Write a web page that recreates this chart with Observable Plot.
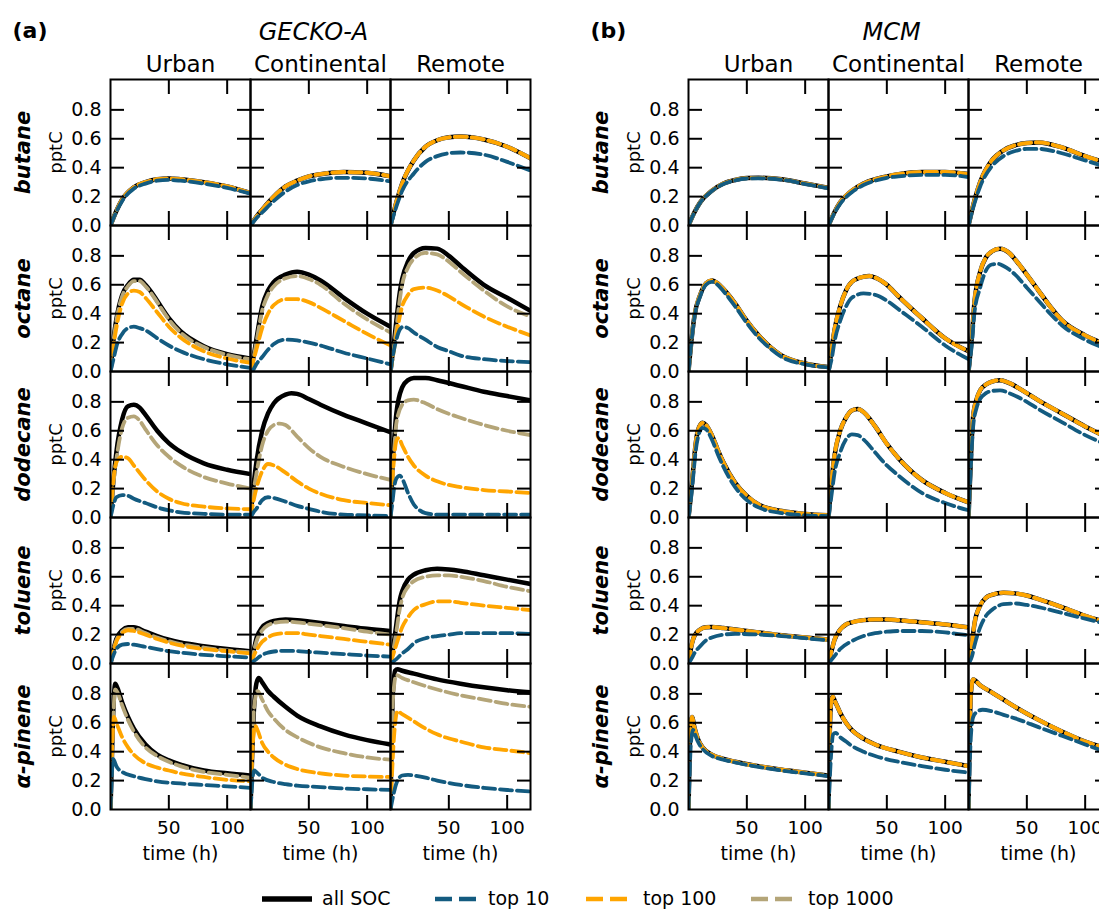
<!DOCTYPE html>
<html><head><meta charset="utf-8">
<script src="https://cdn.jsdelivr.net/npm/d3@7"></script>
<script src="https://cdn.jsdelivr.net/npm/@observablehq/plot@0.6"></script>
<style>
body{margin:0;background:#fff;font-family:"DejaVu Sans",sans-serif;}
#wrap{position:relative;width:1099px;height:909px;overflow:hidden;background:#fff;}
.lg{position:absolute;font-size:19px;line-height:19px;white-space:nowrap;color:#000;}
</style>
</head><body><div id="wrap"></div>
<script>
// ---------- categories / labels ----------
const SCENARIOS = ["Urban", "Continental", "Remote"];
const COMPOUNDS = ["butane", "octane", "dodecane", "toluene", "α-pinene"];
const SERIES_KEYS = ["all", "top10", "top100", "top1000"];
const SERIES_LABELS = ["all SOC", "top 10", "top 100", "top 1000"];
const Y_LABEL_TICKS = [0, 0.2, 0.4, 0.6, 0.8];
const Y_MARK_TICKS = [0.2, 0.4, 0.6, 0.8];
const X_TICKS = [50, 100];

// ---------- GECKO-A data: [time (h), pptC] ----------
const GB_U_ALL = [[0,0],[5,0.1],[10,0.18],[20,0.265],[30,0.3],[40,0.32],[50,0.325],[60,0.32],[80,0.3],[100,0.27],[120,0.225]];
const GB_C_ALL = [[0,0],[5,0.06],[10,0.11],[20,0.2],[30,0.27],[40,0.31],[50,0.34],[60,0.355],[80,0.37],[100,0.365],[120,0.34]];
const GB_R_ALL = [[0,0],[5,0.16],[10,0.29],[20,0.45],[30,0.545],[40,0.59],[50,0.61],[60,0.615],[80,0.595],[100,0.545],[120,0.465]];
const GECKO_BUTANE = {
  Urban: {all: GB_U_ALL, top1000: GB_U_ALL, top100: GB_U_ALL,
    top10: [[0,0],[5,0.095],[10,0.17],[20,0.255],[30,0.29],[40,0.31],[50,0.315],[60,0.31],[80,0.29],[100,0.26],[120,0.22]]},
  Continental: {all: GB_C_ALL, top1000: GB_C_ALL, top100: GB_C_ALL,
    top10: [[0,0],[5,0.05],[10,0.09],[20,0.17],[30,0.235],[40,0.28],[50,0.305],[60,0.32],[80,0.33],[100,0.325],[120,0.305]]},
  Remote: {all: GB_R_ALL, top1000: GB_R_ALL, top100: GB_R_ALL,
    top10: [[0,0],[5,0.13],[10,0.24],[20,0.36],[30,0.44],[40,0.48],[50,0.5],[60,0.505],[80,0.49],[100,0.44],[120,0.38]]}
};
const GECKO_OCTANE = {
  Urban: {
    all: [[0,0],[3,0.25],[5,0.36],[10,0.53],[15,0.6],[20,0.635],[25,0.635],[30,0.6],[35,0.55],[40,0.49],[50,0.37],[60,0.28],[70,0.22],[80,0.175],[100,0.12],[120,0.09]],
    top1000: [[0,0],[3,0.24],[5,0.35],[10,0.52],[15,0.59],[20,0.625],[25,0.625],[30,0.59],[35,0.54],[40,0.48],[50,0.36],[60,0.27],[70,0.21],[80,0.17],[100,0.115],[120,0.085]],
    top100: [[0,0],[3,0.2],[5,0.3],[10,0.47],[15,0.54],[20,0.56],[25,0.55],[30,0.51],[40,0.41],[50,0.31],[60,0.235],[80,0.14],[100,0.09],[120,0.06]],
    top10: [[0,0],[3,0.1],[5,0.17],[10,0.26],[15,0.3],[20,0.31],[25,0.3],[30,0.285],[40,0.23],[50,0.18],[60,0.14],[80,0.085],[100,0.05],[120,0.025]]},
  Continental: {
    all: [[0,0],[3,0.12],[5,0.22],[10,0.45],[15,0.56],[20,0.62],[30,0.67],[40,0.69],[50,0.67],[60,0.63],[80,0.51],[100,0.4],[120,0.31]],
    top1000: [[0,0],[3,0.11],[5,0.2],[10,0.42],[15,0.53],[20,0.59],[30,0.645],[40,0.66],[50,0.64],[60,0.6],[80,0.47],[100,0.36],[120,0.27]],
    top100: [[0,0],[5,0.15],[10,0.3],[15,0.4],[20,0.46],[30,0.5],[40,0.5],[50,0.48],[60,0.44],[80,0.35],[100,0.26],[120,0.18]],
    top10: [[0,0],[3,0.02],[5,0.05],[10,0.1],[15,0.15],[20,0.19],[30,0.22],[40,0.215],[50,0.2],[60,0.18],[80,0.13],[100,0.09],[120,0.05]]},
  Remote: {
    all: [[0,0],[3,0.2],[5,0.35],[8,0.55],[10,0.64],[15,0.76],[20,0.82],[30,0.855],[40,0.85],[50,0.8],[60,0.73],[80,0.6],[100,0.51],[120,0.42]],
    top1000: [[0,0],[3,0.17],[5,0.3],[8,0.5],[10,0.6],[15,0.72],[20,0.78],[30,0.82],[40,0.81],[50,0.76],[60,0.69],[80,0.56],[100,0.45],[120,0.38]],
    top100: [[0,0],[3,0.15],[5,0.25],[10,0.45],[15,0.53],[20,0.57],[30,0.58],[40,0.56],[50,0.52],[60,0.47],[80,0.38],[100,0.31],[120,0.25]],
    top10: [[0,0],[3,0.15],[5,0.22],[8,0.29],[11,0.31],[15,0.3],[20,0.27],[30,0.22],[40,0.17],[50,0.14],[60,0.11],[80,0.085],[100,0.072],[120,0.065]]}
};
const GECKO_DODECANE = {
  Urban: {
    all: [[0,0],[3,0.3],[5,0.45],[10,0.68],[15,0.77],[20,0.78],[25,0.76],[30,0.71],[40,0.6],[50,0.515],[60,0.455],[80,0.375],[100,0.33],[120,0.3]],
    top1000: [[0,0],[3,0.27],[5,0.4],[10,0.62],[15,0.69],[20,0.7],[25,0.67],[30,0.61],[40,0.5],[50,0.42],[60,0.36],[80,0.28],[100,0.235],[120,0.2]],
    top100: [[0,0],[3,0.3],[5,0.38],[8,0.415],[10,0.42],[15,0.41],[20,0.36],[30,0.26],[40,0.18],[50,0.13],[60,0.1],[80,0.075],[100,0.063],[120,0.057]],
    top10: [[0,0],[3,0.1],[5,0.14],[10,0.155],[15,0.15],[20,0.13],[30,0.1],[40,0.07],[50,0.05],[60,0.035],[80,0.025],[100,0.02],[120,0.02]]},
  Continental: {
    all: [[0,0],[3,0.25],[5,0.38],[10,0.6],[15,0.72],[20,0.79],[30,0.85],[35,0.86],[40,0.855],[50,0.82],[60,0.78],[80,0.71],[100,0.65],[120,0.59]],
    top1000: [[0,0],[3,0.2],[5,0.3],[10,0.5],[15,0.6],[20,0.64],[25,0.65],[30,0.64],[40,0.56],[50,0.48],[60,0.42],[80,0.35],[100,0.3],[120,0.26]],
    top100: [[0,0],[3,0.13],[5,0.2],[10,0.32],[15,0.37],[20,0.36],[30,0.31],[40,0.25],[50,0.2],[60,0.165],[80,0.12],[100,0.1],[120,0.085]],
    top10: [[0,0],[3,0.04],[5,0.06],[10,0.12],[15,0.14],[20,0.135],[30,0.11],[40,0.08],[50,0.06],[60,0.04],[80,0.02],[100,0.015],[120,0.01]]},
  Remote: {
    all: [[0,0],[2,0.4],[3,0.52],[5,0.72],[10,0.9],[15,0.95],[20,0.965],[30,0.965],[40,0.95],[60,0.91],[80,0.87],[100,0.84],[120,0.81]],
    top1000: [[0,0],[2,0.35],[3,0.45],[5,0.65],[10,0.78],[15,0.81],[20,0.815],[30,0.79],[40,0.75],[60,0.69],[80,0.64],[100,0.6],[120,0.57]],
    top100: [[0,0],[2,0.3],[3,0.4],[5,0.53],[7,0.55],[10,0.5],[15,0.42],[20,0.36],[30,0.29],[40,0.25],[60,0.21],[80,0.19],[100,0.18],[120,0.17]],
    top10: [[0,0],[2,0.13],[3,0.2],[5,0.27],[8,0.29],[10,0.27],[15,0.17],[20,0.09],[25,0.05],[30,0.03],[40,0.02],[80,0.02],[120,0.02]]}
};
const GECKO_TOLUENE = {
  Urban: {
    all: [[0,0],[5,0.17],[10,0.23],[15,0.25],[20,0.25],[30,0.22],[40,0.19],[50,0.165],[60,0.145],[80,0.12],[100,0.1],[120,0.085]],
    top1000: [[0,0],[5,0.16],[10,0.22],[15,0.24],[20,0.24],[30,0.21],[40,0.18],[50,0.155],[60,0.135],[80,0.11],[100,0.09],[120,0.078]],
    top100: [[0,0],[5,0.15],[10,0.21],[15,0.23],[20,0.225],[30,0.2],[40,0.17],[50,0.145],[60,0.125],[80,0.1],[100,0.085],[120,0.07]],
    top10: [[0,0],[5,0.1],[10,0.13],[15,0.135],[20,0.13],[30,0.115],[40,0.1],[50,0.085],[60,0.075],[80,0.06],[100,0.05],[120,0.04]]},
  Continental: {
    all: [[0,0],[3,0.1],[5,0.17],[10,0.25],[15,0.28],[20,0.295],[30,0.305],[40,0.3],[50,0.29],[60,0.28],[80,0.26],[100,0.24],[120,0.225]],
    top1000: [[0,0],[3,0.09],[5,0.15],[10,0.23],[15,0.265],[20,0.28],[30,0.29],[40,0.285],[50,0.275],[60,0.265],[80,0.245],[100,0.22],[120,0.2]],
    top100: [[0,0],[5,0.09],[10,0.15],[15,0.18],[20,0.2],[30,0.21],[40,0.21],[50,0.2],[60,0.19],[80,0.17],[100,0.15],[120,0.13]],
    top10: [[0,0],[5,0.03],[10,0.06],[15,0.075],[20,0.083],[30,0.088],[40,0.086],[50,0.08],[60,0.075],[80,0.065],[100,0.055],[120,0.048]]},
  Remote: {
    all: [[0,0],[3,0.15],[5,0.27],[8,0.44],[10,0.5],[15,0.58],[20,0.615],[30,0.645],[40,0.655],[50,0.65],[60,0.64],[80,0.61],[100,0.58],[120,0.55]],
    top1000: [[0,0],[3,0.12],[5,0.22],[8,0.38],[10,0.45],[15,0.53],[20,0.57],[30,0.6],[40,0.61],[50,0.61],[60,0.6],[80,0.57],[100,0.53],[120,0.5]],
    top100: [[0,0],[5,0.13],[10,0.25],[15,0.32],[20,0.37],[30,0.41],[40,0.43],[50,0.43],[60,0.42],[80,0.4],[100,0.385],[120,0.37]],
    top10: [[0,0],[5,0.03],[10,0.07],[15,0.1],[20,0.14],[30,0.175],[40,0.19],[50,0.2],[60,0.21],[80,0.21],[100,0.21],[120,0.205]]}
};
const GECKO_APINENE = {
  Urban: {
    all: [[0,0],[2,0.6],[4,0.87],[6,0.84],[10,0.74],[15,0.64],[20,0.56],[30,0.45],[40,0.38],[50,0.34],[60,0.31],[80,0.27],[100,0.25],[120,0.235]],
    top1000: [[0,0],[2,0.55],[4,0.83],[6,0.81],[10,0.72],[15,0.62],[20,0.54],[30,0.43],[40,0.37],[50,0.33],[60,0.3],[80,0.26],[100,0.24],[120,0.22]],
    top100: [[0,0],[2,0.55],[3,0.64],[5,0.6],[10,0.5],[15,0.43],[20,0.38],[30,0.32],[40,0.29],[50,0.27],[60,0.25],[80,0.225],[100,0.205],[120,0.195]],
    top10: [[0,0],[1,0.2],[2,0.35],[3,0.34],[5,0.3],[10,0.26],[20,0.23],[30,0.21],[40,0.195],[60,0.18],[80,0.17],[100,0.16],[120,0.15]]},
  Continental: {
    all: [[0,0],[3,0.7],[5,0.87],[7,0.91],[10,0.88],[15,0.82],[20,0.78],[30,0.71],[40,0.65],[60,0.575],[80,0.52],[100,0.48],[120,0.45]],
    top1000: [[0,0],[3,0.7],[6,0.82],[10,0.76],[15,0.68],[20,0.63],[30,0.55],[40,0.5],[60,0.43],[80,0.39],[100,0.36],[120,0.345]],
    top100: [[0,0],[2,0.45],[4,0.58],[6,0.55],[10,0.46],[15,0.4],[20,0.36],[30,0.31],[40,0.28],[60,0.25],[80,0.235],[100,0.228],[120,0.225]],
    top10: [[0,0],[3,0.27],[5,0.26],[10,0.22],[20,0.19],[30,0.175],[40,0.165],[60,0.155],[80,0.145],[100,0.14],[120,0.135]]},
  Remote: {
    all: [[0,0],[2,0.8],[4,0.96],[6,0.97],[10,0.96],[20,0.94],[40,0.9],[60,0.87],[80,0.845],[100,0.825],[120,0.81]],
    top1000: [[0,0],[2,0.75],[5,0.93],[10,0.91],[20,0.88],[40,0.83],[60,0.79],[80,0.76],[100,0.73],[120,0.71]],
    top100: [[0,0],[3,0.5],[6,0.68],[10,0.66],[20,0.61],[30,0.56],[40,0.52],[60,0.47],[80,0.43],[100,0.41],[120,0.39]],
    top10: [[0,0],[3,0.12],[5,0.18],[10,0.235],[15,0.24],[20,0.235],[30,0.22],[40,0.2],[60,0.17],[80,0.15],[100,0.135],[120,0.125]]}
};

// ---------- MCM data (top 100 and top 1000 coincide with all SOC) ----------
const MB_U = [[0,0],[5,0.09],[10,0.16],[20,0.24],[30,0.29],[40,0.315],[50,0.328],[60,0.33],[80,0.32],[100,0.29],[120,0.26]];
const MB_C = [[0,0],[5,0.09],[10,0.16],[20,0.24],[30,0.29],[40,0.32],[50,0.34],[60,0.355],[80,0.37],[100,0.37],[120,0.355]];
const MB_R = [[0,0],[5,0.17],[10,0.3],[20,0.45],[30,0.52],[40,0.555],[50,0.57],[60,0.575],[80,0.54],[100,0.48],[120,0.43]];
const MCM_BUTANE = {
  Urban: {all: MB_U, top1000: MB_U, top100: MB_U,
    top10: [[0,0],[5,0.088],[10,0.158],[20,0.238],[30,0.287],[40,0.312],[50,0.325],[60,0.327],[80,0.317],[100,0.287],[120,0.257]]},
  Continental: {all: MB_C, top1000: MB_C, top100: MB_C,
    top10: [[0,0],[5,0.085],[10,0.15],[20,0.23],[30,0.28],[40,0.31],[50,0.33],[60,0.34],[80,0.35],[100,0.35],[120,0.335]]},
  Remote: {all: MB_R, top1000: MB_R, top100: MB_R,
    top10: [[0,0],[5,0.15],[10,0.27],[20,0.41],[30,0.48],[40,0.515],[50,0.53],[60,0.53],[80,0.5],[100,0.45],[120,0.4]]}
};
const MO_U = [[0,0],[3,0.25],[5,0.38],[10,0.53],[15,0.61],[20,0.63],[25,0.61],[30,0.57],[40,0.47],[50,0.35],[60,0.25],[70,0.17],[80,0.11],[100,0.055],[120,0.03]];
const MO_C = [[0,0],[3,0.17],[5,0.28],[10,0.45],[15,0.56],[20,0.62],[30,0.655],[35,0.66],[40,0.65],[50,0.6],[60,0.52],[80,0.37],[100,0.23],[120,0.14]];
const MO_R = [[0,0],[3,0.25],[5,0.47],[10,0.69],[15,0.79],[20,0.83],[27,0.85],[35,0.82],[40,0.775],[50,0.67],[60,0.56],[70,0.45],[80,0.355],[100,0.25],[120,0.18]];
const MCM_OCTANE = {
  Urban: {all: MO_U, top1000: MO_U, top100: MO_U,
    top10: [[0,0],[3,0.24],[5,0.37],[10,0.52],[15,0.6],[20,0.62],[25,0.6],[30,0.555],[40,0.45],[50,0.335],[60,0.235],[70,0.16],[80,0.1],[100,0.05],[120,0.028]]},
  Continental: {all: MO_C, top1000: MO_C, top100: MO_C,
    top10: [[0,0],[3,0.1],[5,0.2],[10,0.35],[15,0.45],[20,0.51],[30,0.54],[40,0.53],[50,0.49],[60,0.43],[80,0.31],[100,0.18],[120,0.085]]},
  Remote: {all: MO_R, top1000: MO_R, top100: MO_R,
    top10: [[0,0],[3,0.2],[5,0.4],[10,0.58],[15,0.7],[20,0.74],[25,0.745],[30,0.73],[40,0.67],[50,0.58],[60,0.49],[70,0.4],[80,0.32],[100,0.22],[120,0.15]]}
};
const MD_U = [[0,0],[2,0.15],[4,0.33],[6,0.5],[8,0.6],[12,0.655],[15,0.64],[20,0.57],[25,0.47],[30,0.38],[40,0.24],[50,0.15],[60,0.09],[80,0.045],[100,0.025],[120,0.015]];
const MD_C = [[0,0],[3,0.28],[5,0.42],[10,0.6],[15,0.69],[20,0.74],[25,0.75],[30,0.73],[40,0.63],[50,0.51],[60,0.41],[80,0.26],[100,0.17],[120,0.105]];
const MD_R = [[0,0],[2,0.4],[4,0.7],[7,0.82],[10,0.88],[15,0.92],[20,0.94],[27,0.95],[35,0.93],[50,0.86],[60,0.81],[80,0.72],[100,0.63],[120,0.55]];
const MCM_DODECANE = {
  Urban: {all: MD_U, top1000: MD_U, top100: MD_U,
    top10: [[0,0],[2,0.12],[4,0.28],[6,0.45],[8,0.55],[12,0.62],[15,0.61],[20,0.54],[25,0.44],[30,0.35],[40,0.21],[50,0.12],[60,0.07],[80,0.03],[100,0.015],[120,0.01]]},
  Continental: {all: MD_C, top1000: MD_C, top100: MD_C,
    top10: [[0,0],[3,0.18],[5,0.3],[10,0.45],[15,0.54],[20,0.575],[25,0.57],[30,0.54],[40,0.45],[50,0.36],[60,0.29],[80,0.17],[100,0.1],[120,0.05]]},
  Remote: {all: MD_R, top1000: MD_R, top100: MD_R,
    top10: [[0,0],[2,0.35],[4,0.63],[7,0.76],[10,0.82],[15,0.86],[20,0.875],[27,0.88],[35,0.86],[50,0.8],[60,0.75],[80,0.66],[100,0.57],[120,0.5]]}
};
const MT_U = [[0,0],[3,0.14],[5,0.19],[10,0.235],[15,0.25],[20,0.252],[30,0.245],[40,0.235],[60,0.215],[80,0.195],[100,0.18],[120,0.165]];
const MT_C = [[0,0],[3,0.1],[5,0.16],[10,0.235],[15,0.27],[20,0.285],[30,0.3],[40,0.305],[50,0.305],[60,0.3],[80,0.285],[100,0.27],[120,0.25]];
const MT_R = [[0,0],[3,0.14],[5,0.27],[10,0.4],[15,0.455],[20,0.475],[30,0.49],[40,0.485],[50,0.47],[60,0.445],[80,0.39],[100,0.33],[120,0.28]];
const MCM_TOLUENE = {
  Urban: {all: MT_U, top1000: MT_U, top100: MT_U,
    top10: [[0,0],[3,0.04],[5,0.07],[10,0.12],[15,0.16],[20,0.18],[30,0.2],[40,0.205],[60,0.2],[80,0.19],[100,0.175],[120,0.16]]},
  Continental: {all: MT_C, top1000: MT_C, top100: MT_C,
    top10: [[0,0],[5,0.05],[10,0.1],[20,0.155],[30,0.19],[40,0.21],[50,0.22],[60,0.225],[80,0.225],[100,0.215],[120,0.195]]},
  Remote: {all: MT_R, top1000: MT_R, top100: MT_R,
    top10: [[0,0],[3,0.05],[5,0.12],[10,0.25],[15,0.33],[20,0.37],[30,0.41],[40,0.415],[50,0.405],[60,0.39],[80,0.35],[100,0.31],[120,0.27]]}
};
const MA_U = [[0,0],[1,0.4],[2,0.6],[3,0.64],[5,0.57],[8,0.49],[12,0.43],[20,0.38],[30,0.35],[40,0.33],[60,0.3],[80,0.275],[100,0.255],[120,0.235]];
const MA_C = [[0,0],[1,0.5],[2,0.72],[3.5,0.78],[6,0.74],[10,0.67],[15,0.6],[20,0.55],[30,0.49],[40,0.45],[60,0.4],[80,0.36],[100,0.33],[120,0.3]];
const MA_R = [[0,0],[2,0.8],[4,0.9],[10,0.86],[20,0.81],[30,0.76],[40,0.71],[60,0.62],[80,0.54],[100,0.47],[120,0.42]];
const MCM_APINENE = {
  Urban: {all: MA_U, top1000: MA_U, top100: MA_U,
    top10: [[0,0],[1,0.25],[2,0.45],[4,0.55],[6,0.51],[8,0.47],[12,0.42],[20,0.37],[30,0.345],[40,0.325],[60,0.295],[80,0.27],[100,0.25],[120,0.23]]},
  Continental: {all: MA_C, top1000: MA_C, top100: MA_C,
    top10: [[0,0],[2,0.35],[4,0.52],[6,0.53],[10,0.5],[15,0.47],[20,0.44],[30,0.4],[40,0.37],[60,0.33],[80,0.3],[100,0.275],[120,0.255]]},
  Remote: {all: MA_R, top1000: MA_R, top100: MA_R,
    top10: [[0,0],[2,0.5],[4,0.64],[8,0.68],[12,0.69],[20,0.68],[30,0.655],[40,0.63],[60,0.57],[80,0.51],[100,0.45],[120,0.39]]}
};

// ---------- styling ----------
const COLORS = {all: "#000000", top10: "#135b80", top100: "#ffa500", top1000: "#b4a578"};
const DRAW_ORDER = ["all", "top1000", "top100", "top10"];
const FONT = "'DejaVu Sans', sans-serif";

function buildGroup(tables, title, tag) {
  const rows = [];
  COMPOUNDS.forEach((c, ci) => SCENARIOS.forEach(s => SERIES_KEYS.forEach(k => {
    for (const [t, v] of tables[ci][s][k]) rows.push({compound: c, scenario: s, series: k, t, v});
  })));
  const lines = DRAW_ORDER.map(k => Plot.line(rows.filter(r => r.series === k), {
    x: "t", y: "v", fx: "scenario", fy: "compound",
    stroke: COLORS[k], strokeWidth: k === "all" ? 4.5 : 3.8,
    strokeDasharray: k === "all" ? undefined : "12,5",
    curve: "monotone-x", clip: "frame"
  }));
  const tickOpts = {facetAnchor: null, fill: "none", strokeWidth: 2, tickSize: 14, label: null};
  return Plot.plot({
    width: 578, height: 875,
    marginLeft: 109, marginRight: 47, marginTop: 77, marginBottom: 64,
    style: {fontFamily: FONT, fontSize: "18px", color: "black", background: "transparent", overflow: "visible"},
    x: {domain: [0, 120], label: null},
    y: {domain: [0, 1.01], label: null},
    fx: {domain: SCENARIOS, padding: 0, axis: null},
    fy: {domain: COMPOUNDS, padding: 0, axis: null},
    marks: [
      ...lines,
      Plot.frame({stroke: "black", strokeWidth: 2}),
      Plot.axisY({...tickOpts, ticks: Y_MARK_TICKS, anchor: "left", dx: 14}),
      Plot.axisY({...tickOpts, ticks: Y_MARK_TICKS, anchor: "right", dx: -14}),
      Plot.axisX({...tickOpts, ticks: X_TICKS, anchor: "bottom", dy: -14}),
      Plot.axisX({...tickOpts, ticks: X_TICKS, anchor: "top", dy: 14}),
      Plot.axisY({ticks: Y_LABEL_TICKS, anchor: "left", tickSize: 0, tickPadding: 9, tickFormat: d => d.toFixed(1), label: null, fontSize: 19}),
      Plot.axisX({ticks: X_TICKS, anchor: "bottom", tickSize: 0, tickPadding: 11, label: null, fontSize: 18.5}),
      Plot.text(SCENARIOS.map(s => ({fx: s, fy: COMPOUNDS[0], label: s})),
        {fx: "fx", fy: "fy", text: "label", frameAnchor: "top", dy: -8, lineAnchor: "bottom", fontSize: 23}),
      Plot.text(SCENARIOS.map(s => ({fx: s, fy: COMPOUNDS[COMPOUNDS.length - 1], label: "time (h)"})),
        {fx: "fx", fy: "fy", text: "label", frameAnchor: "bottom", dy: 50, lineAnchor: "bottom", fontSize: 19}),
      Plot.text(COMPOUNDS.map(c => ({fx: SCENARIOS[0], fy: c, label: c})),
        {fx: "fx", fy: "fy", text: "label", frameAnchor: "left", rotate: -90, dx: -81, textAnchor: "middle", lineAnchor: "bottom",
         fontSize: 21, fontWeight: "bold", fontStyle: "italic"}),
      Plot.text(COMPOUNDS.map(c => ({fx: SCENARIOS[0], fy: c, label: "pptC"})),
        {fx: "fx", fy: "fy", text: "label", frameAnchor: "left", rotate: -90, dx: -49, textAnchor: "middle", lineAnchor: "bottom", fontSize: 18}),
      Plot.text([{fx: SCENARIOS[1], fy: COMPOUNDS[0], label: title}],
        {fx: "fx", fy: "fy", text: "label", frameAnchor: "top", dx: -7, dy: -40, lineAnchor: "bottom", fontSize: 24, fontStyle: "italic"}),
      Plot.text([{fx: SCENARIOS[0], fy: COMPOUNDS[0], label: tag}],
        {fx: "fx", fy: "fy", text: "label", frameAnchor: "top-left", dx: -98, dy: -42, textAnchor: "start", lineAnchor: "bottom", fontSize: 22, fontWeight: "bold"})
    ]
  });
}

const wrap = document.getElementById("wrap");
const left = buildGroup([GECKO_BUTANE, GECKO_OCTANE, GECKO_DODECANE, GECKO_TOLUENE, GECKO_APINENE], "GECKO-A", "(a)");
const right = buildGroup([MCM_BUTANE, MCM_OCTANE, MCM_DODECANE, MCM_TOLUENE, MCM_APINENE], "MCM", "(b)");
[[left, 0], [right, 578]].forEach(([svg, x]) => {
  svg.style.position = "absolute"; svg.style.left = x + "px"; svg.style.top = "0px";
  wrap.appendChild(svg);
});

// ---------- legend ----------
const LEGEND_SWATCH_X = [262, 435, 586, 751];
const LEGEND_TEXT_X = [322, 488, 643, 808];
SERIES_KEYS.forEach((k, i) => {
  const w = k === "all" ? 50 : 44;
  const sw = d3.create("svg").attr("width", w).attr("height", 10)
    .style("position", "absolute").style("left", LEGEND_SWATCH_X[i] + "px").style("top", "894px");
  sw.append("line").attr("x1", 0).attr("x2", w).attr("y1", 5).attr("y2", 5)
    .attr("stroke", COLORS[k]).attr("stroke-width", k === "all" ? 5.5 : 4.5)
    .attr("stroke-dasharray", k === "all" ? null : "17,7");
  wrap.appendChild(sw.node());
  const tx = document.createElement("div");
  tx.className = "lg"; tx.style.left = LEGEND_TEXT_X[i] + "px"; tx.style.top = "889px";
  tx.textContent = SERIES_LABELS[i];
  wrap.appendChild(tx);
});
</script>
</body></html>
